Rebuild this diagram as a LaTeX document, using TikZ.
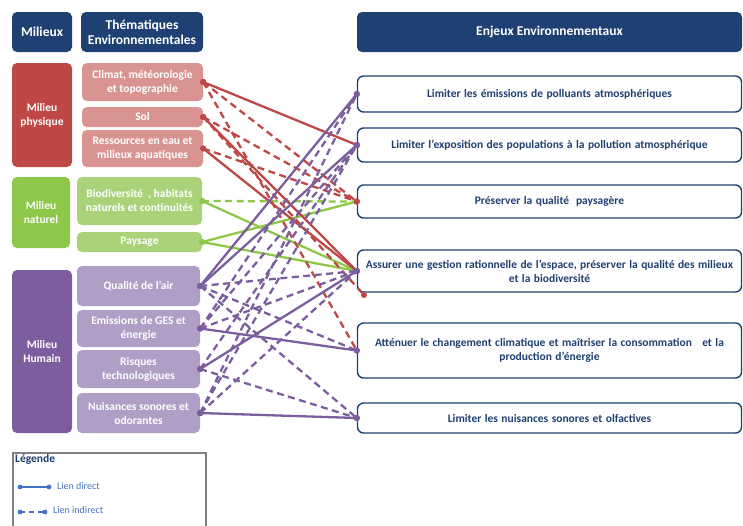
\documentclass[tikz,border=0pt]{standalone}
\usepackage{fontspec}
\setmainfont{Carlito}
\usepackage{tikz}
\usetikzlibrary{calc}
\definecolor{bleufonce}{RGB}{31,64,114}
\definecolor{rougefonce}{RGB}{190,72,70}
\definecolor{rougeclair}{RGB}{217,148,146}
\definecolor{vertfonce}{RGB}{142,200,72}
\definecolor{vertclair}{RGB}{170,210,120}
\definecolor{mauvefonce}{RGB}{124,94,158}
\definecolor{mauveclair}{RGB}{176,158,198}
\definecolor{bleulegende}{RGB}{68,114,196}
\definecolor{grislegende}{RGB}{128,128,128}
\def\lien[#1](#2)(#3){\draw[lien,#1] (#2) -- (#3); \fill[#1,solid] (#2) circle (3); \fill[#1,solid] (#3) circle (3);}
\def\espaces{\spaceskip=0.3em plus 0.1em\relax}
\tikzset{
	boite/.style={rectangle, rounded corners=5pt, inner sep=0pt, align=center, text=white, font=\bfseries\fontsize{11.5}{14}\selectfont},
	entete/.style={boite, fill=bleufonce, font=\bfseries\fontsize{13.5}{15}\selectfont},
	enjeu/.style={rectangle, rounded corners=6pt, draw=bleufonce, line width=1.4pt, fill=white, inner sep=0pt, align=center, text=bleufonce, minimum width=384, font=\bfseries\fontsize{11.5}{14}\selectfont\espaces},
	lien/.style={line width=2.3pt},
	indirect/.style={dash pattern=on 7pt off 4.5pt}
}

\begin{document}
\begin{tikzpicture}[x=1pt, y=-1pt]
			%%%%% START %%%%%
			\useasboundingbox (0, 0) rectangle (743, 525);
			
			% en-tetes
			\node[entete, minimum width=60, minimum height=40] (mil) at (42, 32) {Milieux};
			\node[entete, minimum width=122, minimum height=40] (them) at (142, 32) {Thématiques\\Environnementales};
			\node[entete, minimum width=385, minimum height=40] (enj) at (549.5, 32) {Enjeux Environnementaux};
			
			% milieu physique
			\node[boite, fill=rougefonce, minimum width=60, minimum height=104] (phys) at (42, 115) {Milieu\\physique};
			\node[boite, fill=rougeclair, minimum width=121, minimum height=38] (clim) at (142.5, 82) {Climat, météorologie\\et topographie};
			\node[boite, fill=rougeclair, minimum width=121, minimum height=20] (sol) at (142.5, 117) {Sol};
			\node[boite, fill=rougeclair, minimum width=121, minimum height=37] (eau) at (142.5, 148.5) {Ressources en eau et\\milieux aquatiques};
			
			% milieu naturel
			\node[boite, fill=vertfonce, minimum width=58, minimum height=71] (nat) at (41, 212.5) {Milieu\\naturel};
			\node[boite, fill=vertclair, minimum width=125, minimum height=48] (bio) at (139.5, 201) {Biodiversité\ \ , habitats\\naturels et continuités};
			\node[boite, fill=vertclair, minimum width=125, minimum height=20] (pays) at (139.5, 242) {Paysage};
			
			% milieu humain
			\node[boite, fill=mauvefonce, minimum width=60, minimum height=163] (hum) at (42, 351.5) {Milieu\\Humain};
			\node[boite, fill=mauveclair, minimum width=123, minimum height=40] (air) at (138.5, 286) {Qualité de l'air};
			\node[boite, fill=mauveclair, minimum width=123, minimum height=37] (ges) at (138.5, 328.5) {Emissions de GES et\\énergie};
			\node[boite, fill=mauveclair, minimum width=123, minimum height=38] (risq) at (138.5, 369) {Risques\\technologiques};
			\node[boite, fill=mauveclair, minimum width=123, minimum height=40] (nuis) at (138.5, 413) {Nuisances sonores et\\odorantes};
			
			% enjeux
			\node[enjeu, minimum height=36] (e1) at (549.5, 94) {Limiter les émissions de polluants atmosphériques};
			\node[enjeu, minimum height=34] (e2) at (549.5, 145) {Limiter l'exposition des populations à la pollution atmosphérique};
			\node[enjeu, minimum height=33] (e3) at (549.5, 201.5) {Préserver la qualité \ paysagère};
			\node[enjeu, minimum height=42] (e4) at (549.5, 271) {Assurer une gestion rationnelle de l'espace, préserver la qualité des milieux\\et la biodiversité};
			\node[enjeu, minimum height=55] (e5) at (549.5, 350.5) {Atténuer le changement climatique et maîtriser la consommation \ \ et la\\production d'énergie};
			\node[enjeu, minimum height=30] (e6) at (549.5, 418) {Limiter les nuisances sonores et olfactives};
			\coordinate (fin) at (364, 295);
			
			% liens milieu naturel
			\lien[vertfonce, indirect](bio.east)(e3.west)
			\lien[vertfonce](bio.east)(e4.west)
			\lien[vertfonce](pays.east)(e3.west)
			\lien[vertfonce](pays.east)(e4.west)
			
			% liens milieu physique
			\lien[rougefonce](clim.east)(e2.west)
			\lien[rougefonce, indirect](clim.east)(e3.west)
			\lien[rougefonce, indirect](clim.east)(e5.west)
			\lien[rougefonce](sol.east)(e4.west)
			\lien[rougefonce, indirect](sol.east)(e3.west)
			\lien[rougefonce, indirect](sol.east)(fin)
			\lien[rougefonce](eau.east)(e4.west)
			\lien[rougefonce, indirect](eau.east)(e3.west)
			
			% liens milieu humain
			\lien[mauvefonce](air.east)(e1.west)
			\lien[mauvefonce](air.east)(e2.west)
			\lien[mauvefonce, indirect](air.east)(e4.west)
			\lien[mauvefonce, indirect](air.east)(e5.west)
			\lien[mauvefonce, indirect](air.east)(e6.west)
			\lien[mauvefonce](ges.east)(e5.west)
			\lien[mauvefonce, indirect](ges.east)(e1.west)
			\lien[mauvefonce, indirect](ges.east)(e2.west)
			\lien[mauvefonce, indirect](ges.east)(e4.west)
			\lien[mauvefonce](risq.east)(e4.west)
			\lien[mauvefonce, indirect](risq.east)(e2.west)
			\lien[mauvefonce, indirect](risq.east)(e6.west)
			\lien[mauvefonce](nuis.east)(e6.west)
			\lien[mauvefonce, indirect](nuis.east)(e1.west)
			\lien[mauvefonce, indirect](nuis.east)(e2.west)
			\lien[mauvefonce, indirect](nuis.east)(e4.west)
			
			% legende
			\draw[grislegende, line width=1.5pt] (13, 453) rectangle (206, 528);
			\node[anchor=north west, inner sep=0pt, text=bleufonce, font=\bfseries\fontsize{11.5}{13}\selectfont] (leg) at (15, 454) {Légende};
			\coordinate (d1) at (20, 487);
			\coordinate (d2) at (49, 487);
			\coordinate (i1) at (20, 512);
			\coordinate (i2) at (45, 512);
			\draw[bleulegende, line width=1.2pt] (d1) -- (d2);
			\fill[bleulegende] (d1) circle (2.4);
			\fill[bleulegende] (d2) circle (2.4);
			\draw[bleulegende, line width=1.4pt, dash pattern=on 5pt off 4pt] (i1) -- (i2);
			\fill[bleulegende] (i1) circle (2.4);
			\fill[bleulegende] (i2) circle (2.4);
			\node[anchor=west, inner sep=0pt, text=bleulegende, font=\fontsize{10}{12}\selectfont] (ldir) at (57, 486) {Lien direct};
			\node[anchor=west, inner sep=0pt, text=bleulegende, font=\fontsize{10}{12}\selectfont] (lind) at (53, 510) {Lien indirect};
			
			%%%%% END %%%%%
\end{tikzpicture}
\end{document}
